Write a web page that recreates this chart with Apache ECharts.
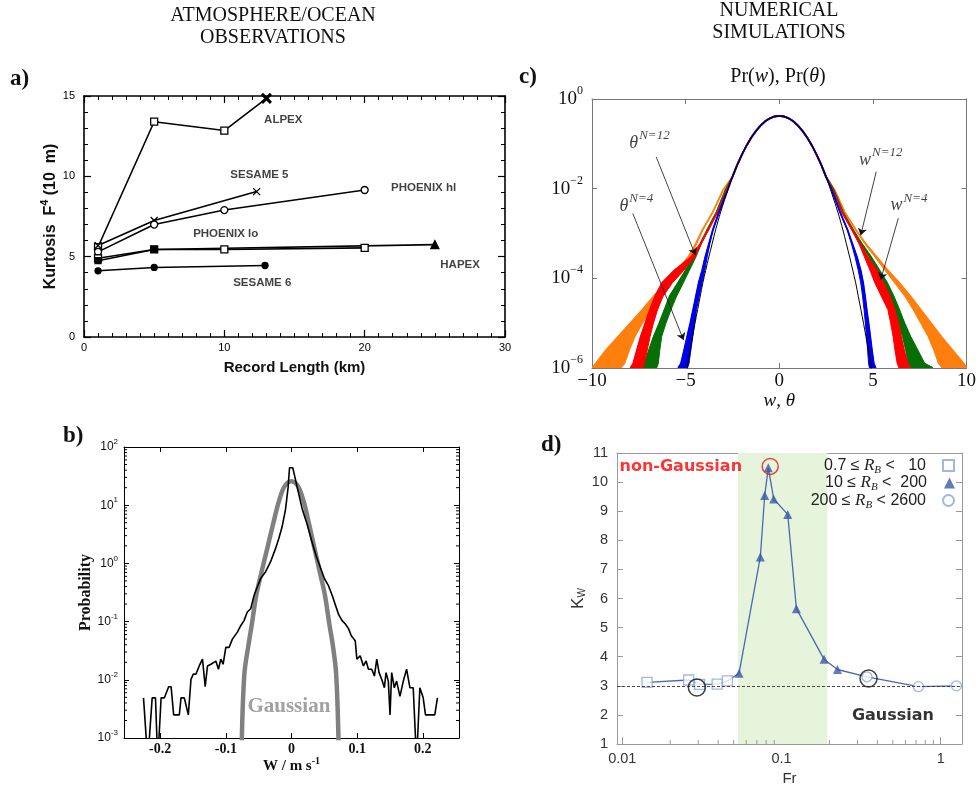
<!DOCTYPE html>
<html>
<head>
<meta charset="utf-8">
<script src="https://cdn.jsdelivr.net/npm/echarts@6/dist/echarts.min.js"></script>
<style>
  html, body { margin: 0; padding: 0; background: #fff; }
  #chart { width: 979px; height: 791px; }
</style>
</head>
<body>
<div id="chart"></div>
<script>
// ---------- (a) kurtosis of the vertical velocity vs record length ----------
const recordLengthAlpex = [1, 5, 10, 13];
const kurtosisAlpex = [5.6, 13.4, 12.85, 14.85];
const recordLengthSesame5 = [1, 5, 12.3];
const kurtosisSesame5 = [5.7, 7.25, 9.05];
const recordLengthPhoenixHi = [1, 5, 10, 20];
const kurtosisPhoenixHi = [5.3, 7.0, 7.9, 9.15];
const recordLengthPhoenixLo = [1, 5, 10, 20];
const kurtosisPhoenixLo = [4.9, 5.45, 5.45, 5.55];
const recordLengthHapex = [1, 5, 25];
const kurtosisHapex = [4.75, 5.45, 5.75];
const recordLengthSesame6 = [1, 5, 12.9];
const kurtosisSesame6 = [4.12, 4.33, 4.45];
const campaignNames = ['ALPEX', 'SESAME 5', 'PHOENIX hl', 'PHOENIX lo', 'HAPEX', 'SESAME 6'];
const campaignNameAnchors = [[14.2, 13.5], [12.5, 10.1], [24.2, 9.3], [10.1, 6.4], [26.8, 4.5], [12.7, 3.4]];

// ---------- (b) measured pdf of W and the fitted Gaussian ----------
const wMeasured = [-0.2253, -0.2188, -0.2121, -0.2071, -0.2036, -0.1985, -0.1935, -0.187, -0.1833, -0.1794,
  -0.1708, -0.1682, -0.1632, -0.1571, -0.153, -0.1495, -0.1455, -0.1405, -0.1355, -0.1314, -0.1279, -0.1227,
  -0.1152, -0.1112, -0.1076, -0.1041, -0.1, -0.095, -0.09, -0.0824, -0.0773, -0.0723, -0.0673, -0.0621, -0.0571,
  -0.047, -0.0394, -0.0318, -0.0242, -0.0192, -0.0142, -0.0091, -0.0052, -0.003, 0.002, 0.008, 0.016, 0.024,
  0.031, 0.038, 0.044, 0.05, 0.056, 0.062, 0.067, 0.072, 0.077, 0.082, 0.087, 0.091, 0.097, 0.0995, 0.1045,
  0.1095, 0.1136, 0.1171, 0.1222, 0.1262, 0.1298, 0.1333, 0.1373, 0.1414, 0.1439, 0.1474, 0.15, 0.1525, 0.1565,
  0.16, 0.1651, 0.1702, 0.1752, 0.1803, 0.1853, 0.1904, 0.1954, 0.2005, 0.204, 0.2181, 0.2222];
const probMeasured = [4.9e-3, 4e-4, 4.9e-3, 4.9e-3, 4e-4, 4.9e-3, 4.9e-3, 7.6e-3, 7.6e-3, 2.5e-3,
  2.5e-3, 4.9e-3, 4.9e-3, 2.5e-3, 1.02e-2, 1.25e-2, 1.25e-2, 1.73e-2, 2.26e-2, 7.6e-3, 1.73e-2, 1.85e-2,
  2.1e-2, 1.52e-2, 2.26e-2, 1.85e-2, 3.6e-2, 3.6e-2, 5.0e-2, 6.6e-2, 8.5e-2, 0.104, 0.146, 0.166, 0.28,
  0.55, 0.72, 1.07, 1.81, 2.7, 4.3, 8.5, 20, 43.9, 43.9, 22, 8.9, 4.6,
  2.37, 1.3, 0.85, 0.55, 0.42, 0.28, 0.19, 0.13, 0.104, 0.091, 0.075, 0.057, 0.047, 0.0226, 0.0258,
  0.0173, 0.0211, 0.0152, 0.0152, 0.0116, 0.0226, 0.0133, 0.0102, 0.0073, 0.0133, 0.0095, 0.0025, 0.0133, 0.0073,
  0.0095, 0.0052, 0.0095, 0.0152, 0.0073, 0.0073, 4e-4, 0.0073, 0.0049, 0.0025, 0.0025, 0.0049];
const wGaussian = [-0.0758, -0.0718, -0.0657, -0.0607, -0.0537, -0.0455, -0.0369, -0.0283, -0.0192, -0.0106, 0,
  0.01, 0.0185, 0.027, 0.035, 0.043, 0.051, 0.058, 0.063, 0.068, 0.0717];
const probGaussian = [8e-4, 0.0124, 0.0385, 0.085, 0.28, 0.72, 1.81, 4.6, 11.6, 21.1, 25.8,
  21.1, 11.6, 4.6, 1.81, 0.72, 0.28, 0.085, 0.0385, 0.0124, 8e-4];
// minor tick positions on the probability axis
const probMinorTicks = [2e-3, 3e-3, 4e-3, 5e-3, 6e-3, 7e-3, 8e-3, 9e-3, 0.02, 0.03, 0.04, 0.05, 0.06, 0.07, 0.08, 0.09,
  0.2, 0.3, 0.4, 0.5, 0.6, 0.7, 0.8, 0.9, 2, 3, 4, 5, 6, 7, 8, 9, 20, 30, 40, 50, 60, 70, 80, 90];

// ---------- (c) simulated pdfs of w and theta ----------
// probability levels at which the tail edges are read
const tailPr = [9.5e-3, 3e-3, 1.2e-3, 6e-4, 3e-4, 1.5e-4, 8e-5, 4e-5, 2e-5, 1e-5, 5e-6, 2.5e-6, 1.25e-6, 6e-7];
const coreX = [-2.5, -2.25, -2, -1.75, -1.5, -1.25, -1, -0.75, -0.5, -0.25, 0, 0.25, 0.5, 0.75, 1, 1.25, 1.5, 1.75, 2, 2.25, 2.5];
const corePr = [0.0184, 0.0334, 0.0568, 0.0908, 0.136, 0.192, 0.255, 0.318, 0.371, 0.407, 0.42, 0.407, 0.371, 0.318, 0.255, 0.192, 0.136, 0.0908, 0.0568, 0.0334, 0.0184];
const gaussTailX = [2.74, 3.13, 3.4, 3.58, 3.76, 3.93, 4.08, 4.22, 4.36, 4.5, 4.63, 4.76, 4.88, 5.0];

const orangeLeftOuter = [-2.99, -3.55, -4.1, -4.45, -4.85, -5.45, -6.05, -6.7, -7.3, -7.95, -8.6, -9.25, -9.8, -10.4];
const orangeLeftInner = [-2.99, -3.55, -4.08, -4.4, -4.75, -5.3, -5.8, -6.3, -6.8, -7.3, -7.7, -8.0, -8.25, -8.45];
const orangeRightOuter = [2.95, 3.5, 4.1, 4.6, 5.2, 5.8, 6.4, 7.0, 7.55, 8.1, 8.65, 9.25, 9.85, 10.4];
const orangeRightInner = [2.95, 3.5, 4.08, 4.55, 5.1, 5.65, 6.15, 6.7, 7.15, 7.55, 7.95, 8.25, 8.5, 8.7];

const greenLeftOuter = [-2.86, -3.35, -3.85, -4.2, -4.6, -5.0, -5.4, -5.85, -6.12, -6.4, -6.7, -6.95, -7.2, -7.4];
const greenLeftInner = [-2.86, -3.35, -3.83, -4.15, -4.45, -4.8, -5.12, -5.48, -5.78, -6.05, -6.28, -6.38, -6.46, -6.55];
const greenRightOuter = [2.9, 3.4, 3.95, 4.4, 4.9, 5.35, 5.75, 6.1, 6.4, 6.68, 7.0, 7.38, 7.75, 8.2];
const greenRightInner = [2.9, 3.4, 3.93, 4.35, 4.8, 5.2, 5.52, 5.85, 6.1, 6.35, 6.58, 6.75, 6.88, 7.0];

const redLeftOuter = [-2.8, -3.3, -3.8, -4.2, -4.7, -5.6, -6.25, -6.62, -6.9, -7.15, -7.4, -7.6, -7.8, -7.95];
const redLeftInner = [-2.8, -3.3, -3.78, -4.15, -4.5, -5.1, -5.7, -6.2, -6.5, -6.72, -6.9, -7.05, -7.2, -7.3];
const redRightOuter = [2.85, 3.35, 3.9, 4.3, 4.72, 5.2, 5.55, 5.9, 6.15, 6.35, 6.5, 6.66, 6.85, 7.0];
const redRightInner = [2.85, 3.35, 3.88, 4.25, 4.55, 4.85, 5.1, 5.45, 5.8, 5.95, 6.08, 6.18, 6.3, 6.4];

const blueLeftOuter = [-2.75, -3.22, -3.55, -3.75, -3.95, -4.12, -4.3, -4.45, -4.6, -4.75, -4.92, -5.08, -5.25, -5.4];
const blueLeftInner = [-2.75, -3.2, -3.53, -3.7, -3.85, -3.98, -4.12, -4.27, -4.42, -4.52, -4.62, -4.72, -4.82, -4.9];
const blueRightOuter = [2.8, 3.25, 3.65, 3.9, 4.15, 4.35, 4.48, 4.58, 4.67, 4.77, 4.86, 4.95, 5.05, 5.15];
const blueRightInner = [2.8, 3.23, 3.63, 3.85, 4.05, 4.22, 4.35, 4.45, 4.53, 4.6, 4.66, 4.72, 4.77, 4.82];

// annotation text anchors and arrows: [x0, p0, x1, p1]
const curveTags = ['θ|N=12', 'θ|N=4', 'w|N=12', 'w|N=4'];
const curveTagAnchors = [[-6.93, 0.105], [-7.63, 4.1e-3], [5.42, 0.0436], [6.93, 4.3e-3]];
const curveTagArrows = [[-6.57, 0.051, -4.48, 3.3e-4], [-7.82, 2.8e-3, -5.11, 4.2e-6],
  [5.18, 0.024, 4.35, 9.1e-4], [6.36, 2.2e-3, 5.42, 9.3e-5]];

// ---------- (d) kurtosis of w vs Froude number ----------
const frLowRb = [0.0143, 0.0261, 0.0306, 0.0394, 0.0457];
const kLowRb = [3.12, 3.2, 3.05, 3.06, 3.17];
const frMidRb = [0.0541, 0.0736, 0.0784, 0.0826, 0.0893, 0.1094, 0.124, 0.185, 0.2244];
const kMidRb = [3.43, 7.43, 9.54, 10.49, 9.42, 8.89, 5.65, 3.91, 3.56];
const frHighRb = [0.344, 0.724, 1.254];
const kHighRb = [3.31, 2.97, 3.0];
const frBand = [0.0533, 0.194];
const frRingsBlack = [0.0294, 0.352];
const kRingsBlack = [2.945, 3.25];
const frRingRed = [0.0849];
const kRingRed = [10.54];
const rbLegend = ['0.7 ≤ R_B <   10', '10 ≤ R_B <  200', '200 ≤ R_B < 2600'];
const frMinorTicks = [0.02, 0.03, 0.04, 0.05, 0.06, 0.07, 0.08, 0.09, 0.2, 0.3, 0.4, 0.5, 0.6, 0.7, 0.8, 0.9];

// ---------------------------------------------------------------------------
const zip = (xs, ys) => xs.map((x, i) => [x, ys[i]]);
const SERIF = '"Liberation Serif", "DejaVu Serif", serif';
const SANS = '"Liberation Sans", Arial, sans-serif';

const chart = echarts.init(document.getElementById('chart'));

// frame-axis helper: a value/log axis drawn on one side of a grid
function frameAxis(base, opts) {
  return Object.assign({
    splitLine: { show: false },
    axisLabel: { show: false },
    axisTick: { show: true, inside: true, length: 5, lineStyle: { color: '#000', width: 1 } },
    axisLine: { show: true, onZero: false, lineStyle: { color: '#000', width: 1 } }
  }, base, opts);
}

// ---- panel a axes
const aLine = { show: true, onZero: false, lineStyle: { color: '#000', width: 1.6 } };
const aTick = { show: true, inside: true, length: 7, lineStyle: { color: '#000', width: 1.2 } };
const xAxes = [
  { gridIndex: 0, type: 'value', min: 0, max: 30, interval: 10, position: 'bottom',
    axisLine: aLine, axisTick: aTick, splitLine: { show: false },
    minorTick: { show: true, splitNumber: 10, length: 4, lineStyle: { color: '#000', width: 1 } },
    axisLabel: { fontFamily: SANS, fontSize: 11, color: '#000', margin: 5 },
    name: 'Record Length (km)', nameLocation: 'middle', nameGap: 23,
    nameTextStyle: { fontFamily: SANS, fontWeight: 'bold', fontSize: 15, color: '#111' } },
  { gridIndex: 0, type: 'value', min: 0, max: 30, interval: 10, position: 'top',
    axisLine: aLine, axisTick: aTick, splitLine: { show: false }, axisLabel: { show: false },
    minorTick: { show: true, splitNumber: 10, length: 4, lineStyle: { color: '#000', width: 1 } } },
  // panel b
  frameAxis({ gridIndex: 1, type: 'value', min: -0.255, max: 0.255, splitNumber: 5, position: 'bottom' }, {
    axisLabel: { show: true, showMinLabel: false, showMaxLabel: false, fontFamily: SERIF, fontWeight: 'bold',
      fontSize: 14, color: '#111', margin: 4 },
    name: 'W / m s{s|-1}', nameLocation: 'middle', nameGap: 17,
    nameTextStyle: { fontFamily: SERIF, fontWeight: 'bold', fontSize: 15, color: '#111',
      rich: { s: { fontFamily: SERIF, fontWeight: 'bold', fontSize: 10, padding: [0, 0, 9, 0] } } } }),
  frameAxis({ gridIndex: 1, type: 'value', min: -0.255, max: 0.255, splitNumber: 5, position: 'top' }, {}),
  // panel c
  frameAxis({ gridIndex: 2, type: 'value', min: -10, max: 10, interval: 5, position: 'bottom' }, {
    axisLine: { show: true, onZero: false, lineStyle: { color: '#777', width: 1 } },
    axisTick: { show: true, inside: true, length: 5, lineStyle: { color: '#777' } },
    axisLabel: { show: true, fontFamily: SERIF, fontSize: 19, color: '#111', margin: 4,
      formatter: v => (v < 0 ? '\u2212' + Math.abs(v) : String(v)) },
    name: '{i|w}{n|, }{i|θ}', nameLocation: 'middle', nameGap: 17,
    nameTextStyle: { rich: { i: { fontFamily: SERIF, fontStyle: 'italic', fontSize: 19, color: '#111' },
      n: { fontFamily: SERIF, fontSize: 19, color: '#111' } } } }),
  frameAxis({ gridIndex: 2, type: 'value', min: -10, max: 10, interval: 5, position: 'top' }, {
    axisLine: { show: true, onZero: false, lineStyle: { color: '#777', width: 1 } },
    axisTick: { show: true, inside: true, length: 5, lineStyle: { color: '#777' } } }),
  // panel d
  frameAxis({ gridIndex: 3, type: 'log', logBase: 10, min: 0.00926, max: 1.36, position: 'bottom' }, {
    axisLine: { show: true, onZero: false, lineStyle: { color: '#999', width: 1 } },
    axisTick: { show: true, inside: true, length: 7, lineStyle: { color: '#999' } },
    axisLabel: { show: true, showMinLabel: false, showMaxLabel: false, fontFamily: SANS, fontSize: 14.5,
      color: '#333', margin: 7 },
    name: 'Fr', nameLocation: 'middle', nameGap: 27,
    nameTextStyle: { fontFamily: SANS, fontSize: 15, color: '#333' } }),
  frameAxis({ gridIndex: 3, type: 'log', logBase: 10, min: 0.00926, max: 1.36, position: 'top' }, {
    axisLine: { show: true, onZero: false, lineStyle: { color: '#999', width: 1 } },
    axisTick: { show: false } })
];

const expLabel = (minus) => v => {
  const e = Math.round(Math.log10(v));
  return '{b|10}{e|' + (e < 0 ? minus + Math.abs(e) : e) + '}';
};

const yAxes = [
  { gridIndex: 0, type: 'value', min: 0, max: 15, interval: 5, position: 'left',
    axisLine: aLine, axisTick: aTick, splitLine: { show: false },
    minorTick: { show: true, splitNumber: 5, length: 4, lineStyle: { color: '#000', width: 1 } },
    axisLabel: { fontFamily: SANS, fontSize: 11, color: '#000', margin: 9 },
    name: 'Kurtosis  F{s|4} (10  m)', nameLocation: 'middle', nameGap: 21,
    nameTextStyle: { fontFamily: SANS, fontWeight: 'bold', fontSize: 16, color: '#111',
      rich: { s: { fontFamily: SANS, fontWeight: 'bold', fontSize: 11, padding: [0, 0, 12, 0] } } } },
  { gridIndex: 0, type: 'value', min: 0, max: 15, interval: 5, position: 'right',
    axisLine: aLine, axisTick: aTick, splitLine: { show: false }, axisLabel: { show: false },
    minorTick: { show: true, splitNumber: 5, length: 4, lineStyle: { color: '#000', width: 1 } } },
  // panel b
  frameAxis({ gridIndex: 1, type: 'log', logBase: 10, min: 1e-3, max: 100, position: 'left' }, {
    axisLabel: { show: true, margin: 6, formatter: expLabel('-'),
      rich: { b: { fontFamily: SANS, fontSize: 12, color: '#111' },
        e: { fontFamily: SANS, fontSize: 8, color: '#111', padding: [0, 0, 10, 0] } } },
    name: 'Probability', nameLocation: 'middle', nameGap: 20,
    nameTextStyle: { fontFamily: SERIF, fontWeight: 'bold', fontSize: 16, color: '#111' } }),
  frameAxis({ gridIndex: 1, type: 'log', logBase: 10, min: 1e-3, max: 100, position: 'right' }, {}),
  // panel c
  frameAxis({ gridIndex: 2, type: 'log', logBase: 10, min: 1e-6, max: 1, interval: 2, position: 'left' }, {
    axisLine: { show: true, onZero: false, lineStyle: { color: '#777', width: 1 } },
    axisTick: { show: true, inside: true, length: 5, lineStyle: { color: '#777' } },
    axisLabel: { show: true, margin: 9, formatter: expLabel('\u2212'),
      rich: { b: { fontFamily: SERIF, fontSize: 19, color: '#111' },
        e: { fontFamily: SERIF, fontSize: 12, color: '#111', padding: [0, 0, 16, 0] } } } }),
  frameAxis({ gridIndex: 2, type: 'log', logBase: 10, min: 1e-6, max: 1, interval: 2, position: 'right' }, {
    axisLine: { show: true, onZero: false, lineStyle: { color: '#777', width: 1 } },
    axisTick: { show: true, inside: true, length: 5, lineStyle: { color: '#777' } } }),
  // panel d
  frameAxis({ gridIndex: 3, type: 'value', min: 1, max: 11, interval: 1, position: 'left' }, {
    axisLine: { show: true, onZero: false, lineStyle: { color: '#999', width: 1 } },
    axisTick: { show: true, inside: true, length: 6, lineStyle: { color: '#999' } },
    axisLabel: { show: true, fontFamily: SANS, fontSize: 14.5, color: '#333', margin: 9 },
    name: 'K{s|W}', nameLocation: 'middle', nameGap: 30,
    nameTextStyle: { fontFamily: SANS, fontSize: 17, color: '#333',
      rich: { s: { fontFamily: SANS, fontSize: 10, color: '#333', padding: [8, 0, 0, 0] } } } }),
  frameAxis({ gridIndex: 3, type: 'value', min: 1, max: 11, interval: 1, position: 'right' }, {
    axisLine: { show: true, onZero: false, lineStyle: { color: '#999', width: 1 } },
    axisTick: { show: true, inside: true, length: 6, lineStyle: { color: '#999' } } })
];

// short tick marks placed through the axis scale (log minor ticks)
function minorTickSeries(xi, yi, values, along, len, color) {
  return {
    type: 'custom', xAxisIndex: xi, yAxisIndex: yi, silent: true, z: 10,
    data: values.map(v => (along === 'y' ? [NaN, v] : [v, NaN])),
    renderItem: (params, api) => {
      const cs = params.coordSys;
      const st = { stroke: color, lineWidth: 1 };
      if (along === 'y') {
        const y = api.coord([0, api.value(1)])[1];
        return { type: 'group', children: [
          { type: 'line', shape: { x1: cs.x, y1: y, x2: cs.x + len, y2: y }, style: st },
          { type: 'line', shape: { x1: cs.x + cs.width - len, y1: y, x2: cs.x + cs.width, y2: y }, style: st }
        ] };
      }
      const x = api.coord([api.value(0), 5])[0];
      const yb = cs.y + cs.height;
      return { type: 'line', shape: { x1: x, y1: yb, x2: x, y2: yb - len }, style: st };
    }
  };
}

// ---- panel a series
const crossPath = 'path://M0,0L10,10M10,0L0,10';
const aLineStyle = { color: '#000', width: 1.6 };
function campaign(name, xs, ys, symbol, filled, size) {
  return {
    name, type: 'line', xAxisIndex: 0, yAxisIndex: 0, data: zip(xs, ys),
    symbol, symbolSize: size || 7, showAllSymbol: true, lineStyle: aLineStyle, z: 3,
    itemStyle: { color: filled ? '#000' : '#fff', borderColor: '#000', borderWidth: 1.3 }
  };
}
const alpex = campaign('ALPEX', recordLengthAlpex, kurtosisAlpex, 'rect', false);
alpex.data[alpex.data.length - 1] = { value: alpex.data[alpex.data.length - 1], symbol: crossPath, symbolSize: 9,
  itemStyle: { borderWidth: 3 } };
const hapex = campaign('HAPEX', recordLengthHapex, kurtosisHapex, 'rect', true, 6);
hapex.data[hapex.data.length - 1] = { value: hapex.data[hapex.data.length - 1], symbol: 'triangle', symbolSize: 8 };
const panelASeries = [
  alpex,
  campaign('SESAME 5', recordLengthSesame5, kurtosisSesame5, crossPath, false, 7),
  campaign('PHOENIX hl', recordLengthPhoenixHi, kurtosisPhoenixHi, 'circle', false, 7),
  campaign('PHOENIX lo', recordLengthPhoenixLo, kurtosisPhoenixLo, 'rect', false, 7),
  hapex,
  campaign('SESAME 6', recordLengthSesame6, kurtosisSesame6, 'circle', true, 6),
  { type: 'scatter', xAxisIndex: 0, yAxisIndex: 0, symbolSize: 0, silent: true, z: 5,
    data: campaignNameAnchors.map((p, i) => ({ value: p, name: campaignNames[i] })),
    label: { show: true, position: 'inside', formatter: '{b}', fontFamily: SANS, fontWeight: 'bold',
      fontSize: 11.5, color: '#111' } }
];

// ---- panel b series
const panelBSeries = [
  { type: 'line', xAxisIndex: 2, yAxisIndex: 2, data: zip(wGaussian, probGaussian), symbol: 'none',
    smooth: 0.35, lineStyle: { color: '#808080', width: 4.5 }, z: 2 },
  { type: 'line', xAxisIndex: 2, yAxisIndex: 2, data: zip(wMeasured, probMeasured), symbol: 'none',
    lineStyle: { color: '#000', width: 1.6 }, z: 3 },
  { type: 'scatter', xAxisIndex: 2, yAxisIndex: 2, symbolSize: 0, silent: true, z: 4,
    data: [{ value: [-0.004, 3.5e-3], name: 'Gaussian' }],
    label: { show: true, position: 'inside', formatter: '{b}', fontFamily: SERIF, fontWeight: 'bold',
      fontSize: 21, color: '#8a8a8a' } },
  minorTickSeries(2, 2, probMinorTicks, 'y', 3, '#000')
];

// ---- panel c series
const bands = [
  { color: '#ff7f0e', lo: orangeLeftOuter, li: orangeLeftInner, ro: orangeRightOuter, ri: orangeRightInner },
  { color: '#067006', lo: greenLeftOuter, li: greenLeftInner, ro: greenRightOuter, ri: greenRightInner },
  { color: '#ff0000', lo: redLeftOuter, li: redLeftInner, ro: redRightOuter, ri: redRightInner },
  { color: '#0000e6', lo: blueLeftOuter, li: blueLeftInner, ro: blueRightOuter, ri: blueRightInner }
];
const panelCSeries = bands.map(b => ({
  type: 'custom', xAxisIndex: 4, yAxisIndex: 4, clip: true, silent: true, z: 2,
  data: [[0, 0.1]],
  renderItem: (params, api) => {
    const cs = params.coordSys;
    const rect = { x: cs.x, y: cs.y, width: cs.width, height: cs.height };
    const pt = (x, p) => api.coord([x, p]);
    const edge = xs => xs.map((x, i) => pt(x, tailPr[i]));
    const clip = pts => echarts.graphic.clipPointsByRect(pts, rect);
    const leftBand = clip(edge(b.lo).concat(edge(b.li).reverse()));
    const rightBand = clip(edge(b.ro).concat(edge(b.ri).reverse()));
    const curve = clip(edge(b.lo).reverse().concat(coreX.map((x, i) => pt(x, corePr[i]))).concat(edge(b.ro)));
    const st = { fill: b.color, stroke: b.color, lineWidth: 1 };
    return { type: 'group', children: [
      { type: 'polygon', shape: { points: leftBand }, style: st },
      { type: 'polygon', shape: { points: rightBand }, style: st },
      { type: 'polyline', shape: { points: curve }, style: { fill: null, stroke: b.color, lineWidth: 1.8 } }
    ] };
  }
}));
const gaussLine = gaussTailX.map((x, i) => [-x, tailPr[i]]).reverse()
  .concat(coreX.map((x, i) => [x, corePr[i]]))
  .concat(gaussTailX.map((x, i) => [x, tailPr[i]]));
panelCSeries.push(
  { type: 'line', xAxisIndex: 4, yAxisIndex: 4, data: gaussLine, symbol: 'none', smooth: 0.3,
    lineStyle: { color: '#000', width: 1 }, z: 3 },
  { type: 'scatter', xAxisIndex: 4, yAxisIndex: 4, symbolSize: 0, silent: true, z: 6,
    data: curveTagAnchors.map((p, i) => ({ value: p, name: curveTags[i] })),
    label: { show: true, position: 'inside',
      formatter: p => { const [v, s] = p.name.split('|'); return '{v|' + v + '}{s|' + s + '}'; },
      rich: { v: { fontFamily: SERIF, fontStyle: 'italic', fontSize: 18, color: '#111' },
        s: { fontFamily: SERIF, fontStyle: 'italic', fontSize: 13, color: '#111', padding: [0, 0, 14, 1] } } },
    markLine: { silent: true, symbol: ['none', 'arrow'], symbolSize: 7, animation: false,
      label: { show: false }, lineStyle: { color: '#111', width: 0.8, type: 'solid' },
      data: curveTagArrows.map(a => [{ coord: [a[0], a[1]] }, { coord: [a[2], a[3]] }]) } }
);

// ---- panel d series
const markerBlue = '#8ea3da';
const panelDSeries = [
  { type: 'line', xAxisIndex: 6, yAxisIndex: 6, data: [], z: 1, silent: true,
    markArea: { silent: true, itemStyle: { color: '#e6f4dc' },
      data: [[{ xAxis: frBand[0] }, { xAxis: frBand[1] }]] },
    markLine: { silent: true, symbol: 'none', label: { show: false },
      lineStyle: { color: '#333', width: 0.9, type: [3, 2] }, data: [{ yAxis: 3 }] } },
  { type: 'line', xAxisIndex: 6, yAxisIndex: 6, z: 3, symbol: 'none',
    data: zip(frLowRb, kLowRb).concat(zip(frMidRb, kMidRb), zip(frHighRb, kHighRb)),
    lineStyle: { color: '#4a68b2', width: 1.3 } },
  { name: rbLegend[0], type: 'scatter', xAxisIndex: 6, yAxisIndex: 6, z: 4, symbol: 'rect', symbolSize: 10,
    data: zip(frLowRb, kLowRb), itemStyle: { color: '#fff', borderColor: markerBlue, borderWidth: 1.3 } },
  { name: rbLegend[1], type: 'scatter', xAxisIndex: 6, yAxisIndex: 6, z: 4, symbol: 'triangle', symbolSize: 9,
    data: zip(frMidRb, kMidRb), itemStyle: { color: '#3b59a6' } },
  { name: rbLegend[2], type: 'scatter', xAxisIndex: 6, yAxisIndex: 6, z: 4, symbol: 'circle', symbolSize: 10,
    data: zip(frHighRb, kHighRb), itemStyle: { color: '#fff', borderColor: markerBlue, borderWidth: 1.3 } },
  { type: 'scatter', xAxisIndex: 6, yAxisIndex: 6, z: 5, symbol: 'circle', symbolSize: 17, silent: true,
    data: zip(frRingsBlack, kRingsBlack), itemStyle: { color: 'none', borderColor: '#111', borderWidth: 1.5 } },
  { type: 'scatter', xAxisIndex: 6, yAxisIndex: 6, z: 5, symbol: 'circle', symbolSize: 16, silent: true,
    data: zip(frRingRed, kRingRed), itemStyle: { color: 'none', borderColor: '#e41a1a', borderWidth: 1.5 } },
  { type: 'scatter', xAxisIndex: 6, yAxisIndex: 6, symbolSize: 0, silent: true, z: 6,
    data: [{ value: [0.0233, 10.52], name: 'non-Gaussian' }],
    label: { show: true, position: 'inside', formatter: '{b}', fontFamily: '"DejaVu Sans", sans-serif',
      fontWeight: 'bold', fontSize: 16, color: '#ff0000' } },
  { type: 'scatter', xAxisIndex: 6, yAxisIndex: 6, symbolSize: 0, silent: true, z: 6,
    data: [{ value: [0.501, 1.96], name: 'Gaussian' }],
    label: { show: true, position: 'inside', formatter: '{b}', fontFamily: '"DejaVu Sans", sans-serif',
      fontWeight: 'bold', fontSize: 16, color: '#000' } },
  minorTickSeries(6, 6, frMinorTicks, 'x', 4, '#999')
];

const legendRich = {
  n: { fontFamily: SANS, fontSize: 16, color: '#222' },
  i: { fontFamily: SERIF, fontStyle: 'italic', fontSize: 17, color: '#222' },
  s: { fontFamily: SERIF, fontStyle: 'italic', fontSize: 11, color: '#222', padding: [9, 0, 0, 0] }
};
const legendFmt = name => {
  const [pre, post] = name.split('R_B');
  return '{n|' + pre + '}{i|R}{s|B}{n|' + post + '}';
};
const legends = rbLegend.map((nm, i) => ({
  data: [nm], orient: 'vertical', align: 'right', right: 24, top: 457 + i * 17.5,
  itemWidth: 11, itemHeight: 11, itemGap: 0, padding: 0, selectedMode: false,
  formatter: legendFmt, textStyle: { rich: legendRich, padding: [0, 12, 0, 0] }
}));

chart.setOption({
  animation: false,
  backgroundColor: '#fff',
  grid: [
    { left: 84, top: 96, width: 421, height: 241 },
    { left: 124, top: 447, width: 335, height: 291 },
    { left: 592, top: 99, width: 376, height: 269 },
    { left: 617, top: 453, width: 345, height: 291 }
  ],
  xAxis: xAxes,
  yAxis: yAxes,
  legend: legends,
  series: panelASeries.concat(panelBSeries, panelCSeries, panelDSeries),
  graphic: [
    { type: 'text', x: 273, y: 4, style: { text: 'ATMOSPHERE/OCEAN\nOBSERVATIONS', font: '20px ' + SERIF,
      fill: '#111', align: 'center', lineHeight: 22.5 } },
    { type: 'text', x: 779, y: -1, style: { text: 'NUMERICAL\nSIMULATIONS', font: '20px ' + SERIF,
      fill: '#111', align: 'center', lineHeight: 22.5 } },
    { type: 'text', x: 10, y: 68, style: { text: 'a)', font: 'bold 23px ' + SERIF, fill: '#111' } },
    { type: 'text', x: 63, y: 425, style: { text: 'b)', font: 'bold 23px ' + SERIF, fill: '#111' } },
    { type: 'text', x: 519, y: 66, style: { text: 'c)', font: 'bold 23px ' + SERIF, fill: '#111' } },
    { type: 'text', x: 541, y: 434, style: { text: 'd)', font: 'bold 23px ' + SERIF, fill: '#111' } },
    { type: 'text', x: 778, y: 77, style: { text: '{n|Pr(}{i|w}{n|), Pr(}{i|θ}{n|)}', align: 'center',
      verticalAlign: 'middle', rich: {
        n: { fontFamily: SERIF, fontSize: 20, fill: '#111' },
        i: { fontFamily: SERIF, fontStyle: 'italic', fontSize: 20, fill: '#111' } } } }
  ]
});
</script>
</body>
</html>
